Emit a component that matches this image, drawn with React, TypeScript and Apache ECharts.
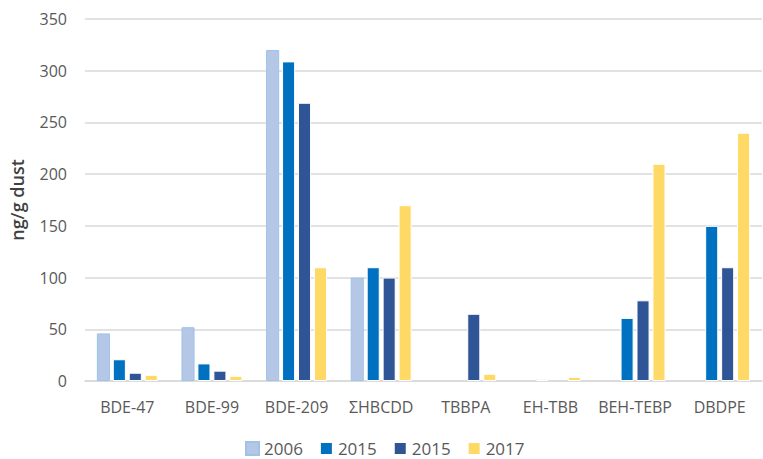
import React, { useEffect, useRef } from "react";
import * as echarts from "echarts";

const categories = ["BDE-47", "BDE-99", "BDE-209", "ΣHBCDD", "TBBPA", "EH-TBB", "BEH-TEBP", "DBDPE"];
const seriesNames = ["2006", "2015", "2015 ", "2017"];
const values2006 = [46, 52, 320, 100, null, null, null, null];
const values2015a = [21, 17, 309, 110, null, 2, 61, 150];
const values2015b = [8, 10, 269, 100, 65, null, 78, 110];
const values2017 = [6, 5, 110, 170, 7, 4, 210, 240];
const colors = ["#B4C7E7", "#0070C0", "#2F5597", "#FFD966"];

const FONT = "'Open Sans', 'Noto Sans', sans-serif";

export default function App() {
  const ref = useRef<HTMLDivElement>(null);
  useEffect(() => {
    if (!ref.current) return;
    const chart = echarts.init(ref.current, undefined, { renderer: "svg" });
    const data = [values2006, values2015a, values2015b, values2017];
    chart.setOption({
      animation: false,
      textStyle: { fontFamily: FONT },
      grid: { left: 85, right: 1, top: 19, bottom: 78 },
      legend: {
        top: 435,
        left: 240,
        itemWidth: 13,
        itemHeight: 13,
        itemGap: 16,
        icon: "rect",
        formatter: (n: string) => n.trim(),
        textStyle: { fontSize: 17, color: "#595959", fontFamily: FONT, lineHeight: 17 },
        data: seriesNames,
      },
      xAxis: {
        type: "category",
        data: categories,
        axisLine: { lineStyle: { color: "#D9D9D9", width: 1.5 } },
        axisTick: { show: false },
        axisLabel: { fontSize: 16, color: "#595959", margin: 18, interval: 0, fontFamily: FONT },
      },
      yAxis: {
        type: "value",
        min: 0,
        max: 350,
        interval: 50,
        name: "ng/g dust",
        nameLocation: "middle",
        nameGap: 59,
        nameRotate: 90,
        nameTextStyle: { fontSize: 18, color: "#404040", fontWeight: 600, fontFamily: FONT },
        axisLine: { show: false },
        axisTick: { show: false },
        axisLabel: { fontSize: 16, color: "#595959", margin: 18, fontFamily: FONT },
        splitLine: { lineStyle: { color: "#D9D9D9", width: 1.5 } },
      },
      series: seriesNames.map((name, i) => ({
        name,
        type: "bar",
        data: data[i],
        barGap: "22%",
        barCategoryGap: "28%",
        itemStyle: {
          color: colors[i],
          borderColor: i === 0 ? "#9DC3E6" : "#FFFFFF",
          borderWidth: 1,
        },
      })),
    });
    return () => chart.dispose();
  }, []);
  return (
    <div
      ref={ref}
      style={{ position: "absolute", left: 0, top: 0, width: 763, height: 459 }}
    />
  );
}
